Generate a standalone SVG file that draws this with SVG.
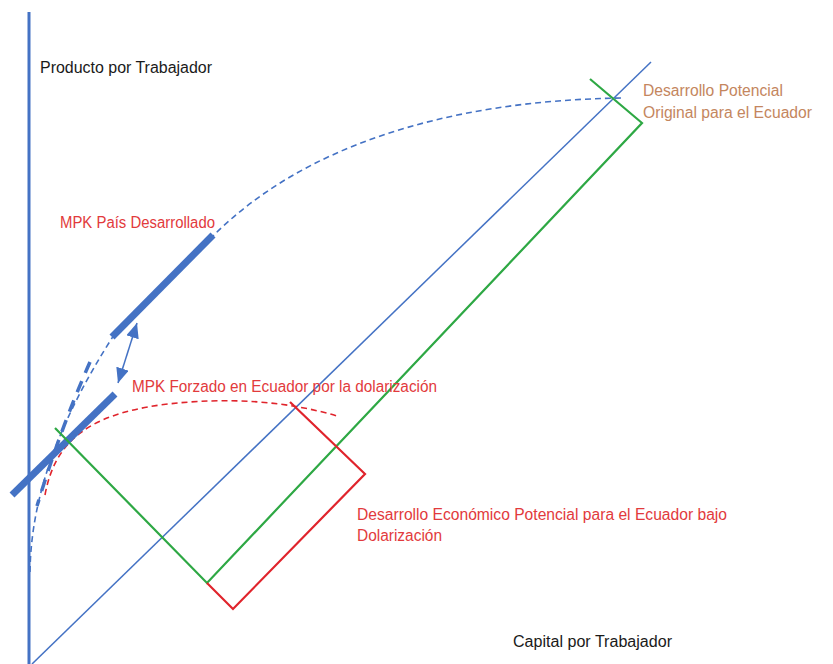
<svg xmlns="http://www.w3.org/2000/svg" width="833" height="664" viewBox="0 0 833 664">
<style>
  text { font-family: "Liberation Sans", Arial, sans-serif; font-size: 16px; }
  .black { fill: #1a1a1a; }
  .red { fill: #E23A3C; }
  .brown { fill: #C4865E; }
  .blue { stroke: #4472C4; fill: none; }
  .green { stroke: #2EA844; fill: none; stroke-width: 2.2; stroke-linejoin: miter; }
  .redline { stroke: #E0242C; fill: none; stroke-width: 2.2; }
</style>
<defs>
  <marker id="ah" viewBox="0 0 15 13" refX="15" refY="6.5" markerWidth="15" markerHeight="13" markerUnits="userSpaceOnUse" orient="auto-start-reverse">
    <path d="M0,0 L15,6.5 L0,13 z" fill="#4472C4"/>
  </marker>
</defs>
<rect width="833" height="664" fill="#ffffff"/>

<g id="axes">
  <line class="blue" x1="29" y1="12" x2="29" y2="664" stroke-width="3"/>
  <line class="blue" x1="32" y1="664" x2="651" y2="62" stroke-width="1.5"/>
</g>

<g id="curves">
  <path id="curva-original" class="blue" stroke-width="1.6" stroke-dasharray="6 4" d="M30,572 C31,495 60,420 112,338 L215,234 C300,150 440,100 625,98"/>
  <path id="curva-forzada-azul" class="blue" stroke-width="3.5" stroke-dasharray="12 9" d="M90,362 Q60,430 37,506"/>
  <path id="curva-dolarizacion" fill="none" stroke="#E0242C" stroke-width="1.6" stroke-dasharray="6 4" d="M45,495 C55,440 90,415 160,405 C230,396 290,402 337,416"/>
</g>

<g id="mpk-lines">
  <line id="mpk-desarrollado" class="blue" x1="112" y1="337" x2="213" y2="235" stroke-width="7"/>
  <line id="mpk-forzado" class="blue" x1="12" y1="495" x2="115" y2="394" stroke-width="7"/>
</g>

<g id="connectors">
  <line class="blue" x1="137" y1="323" x2="118" y2="383" stroke-width="1.5" marker-start="url(#ah)" marker-end="url(#ah)"/>
  <path id="rect-original" class="green" d="M55,428 L207,583 L642,123 L590,79"/>
  <path id="rect-dolarizacion" class="redline" d="M290,402 L365,474 L233,609 L207,583"/>
</g>

<g id="labels">
  <text class="black" x="40" y="73" textLength="172" lengthAdjust="spacingAndGlyphs">Producto por Trabajador</text>
  <text class="black" x="513" y="647" textLength="159" lengthAdjust="spacingAndGlyphs">Capital por Trabajador</text>
  <text class="brown" x="643" y="96" textLength="140" lengthAdjust="spacingAndGlyphs">Desarrollo Potencial</text>
  <text class="brown" x="643" y="118" textLength="169" lengthAdjust="spacingAndGlyphs">Original para el Ecuador</text>
  <text class="red" x="60" y="228" textLength="155" lengthAdjust="spacingAndGlyphs">MPK País Desarrollado</text>
  <text class="red" x="132" y="392" textLength="305" lengthAdjust="spacingAndGlyphs">MPK Forzado en Ecuador por la dolarización</text>
  <text class="red" x="357" y="520" textLength="370" lengthAdjust="spacingAndGlyphs">Desarrollo Económico Potencial para el Ecuador bajo</text>
  <text class="red" x="357" y="541" textLength="85" lengthAdjust="spacingAndGlyphs">Dolarización</text>
</g>
</svg>
